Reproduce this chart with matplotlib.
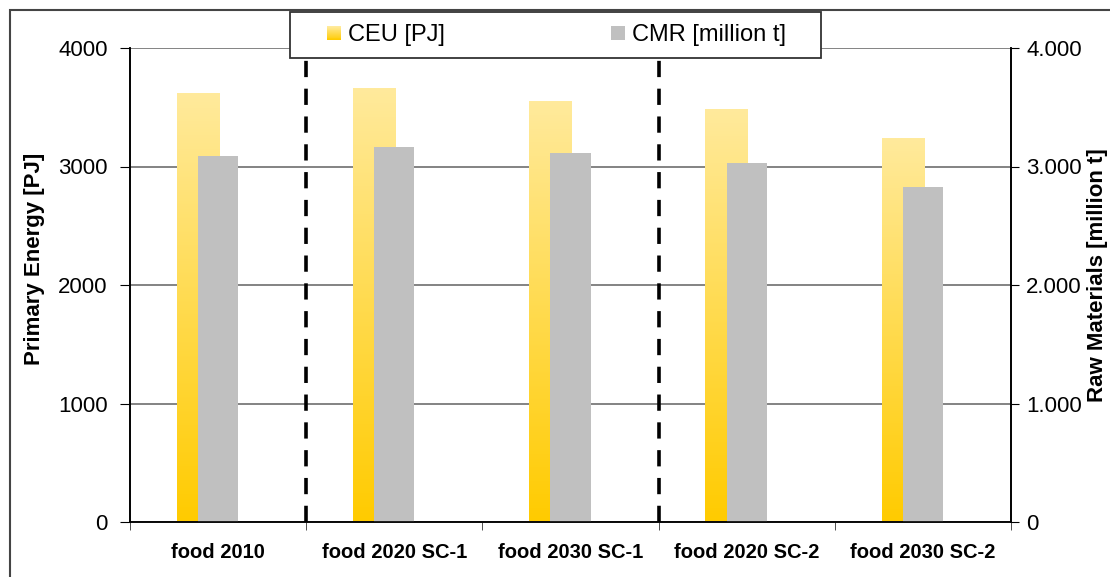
import numpy as np
import matplotlib
matplotlib.use("Agg")
import matplotlib.pyplot as plt
from matplotlib.colors import LinearSegmentedColormap
from matplotlib.patches import Rectangle
from matplotlib.legend_handler import HandlerBase
from matplotlib.ticker import FixedLocator

categories = ["food 2010", "food 2020 SC-1", "food 2030 SC-1", "food 2020 SC-2", "food 2030 SC-2"]
ceu_pj = [3615, 3655, 3545, 3485, 3235]
cmr_mt = [3085, 3165, 3115, 3030, 2830]
left_ticks = [0, 1000, 2000, 3000, 4000]
right_tick_labels = ["0", "1.000", "2.000", "3.000", "4.000"]
separators = [0.5, 2.5]

plt.rcParams['font.family'] = ['Liberation Sans', 'DejaVu Sans']

yellow_cmap = LinearSegmentedColormap.from_list("ceu", ["#FFCB00", "#FFEA9C"])
gray = "#C0C0C0"

fig = plt.figure(figsize=(11.10, 5.77), dpi=100)
ax = fig.add_axes([130/1110, 1-522/577, (1011-130)/1110, (522-48)/577])
ax2 = ax.twinx()

x = np.arange(len(categories))
bw = 0.24
off = -0.114

# gradient yellow bars
bars = ax.bar(x + off, ceu_pj, width=bw, color='none', edgecolor='none', zorder=2)
grad = np.linspace(0, 1, 256).reshape(-1, 1)
for b in bars:
    x0, w, h = b.get_x(), b.get_width(), b.get_height()
    ax.imshow(grad, extent=[x0, x0 + w, 0, h], origin='lower', aspect='auto',
              cmap=yellow_cmap, zorder=2, interpolation='bilinear')

ax2.bar(x, cmr_mt, width=bw * 0.95, color=gray, edgecolor='none', zorder=2)

ax.set_xlim(-0.5, len(categories) - 0.5)
ax.set_ylim(0, 4000)
ax2.set_ylim(0, 4000)
ax.set_yticks(left_ticks)
ax.set_yticklabels([str(t) for t in left_ticks])
ax2.set_yticks(left_ticks)
ax2.set_yticklabels(right_tick_labels)

ax.set_axisbelow(True)
ax.yaxis.grid(True, color="#7a7a7a", linewidth=1.3)
ax.xaxis.grid(False)

for s in separators:
    ax.axvline(s, color='black', linewidth=2.6, linestyle=(0, (4.5, 3.2)), zorder=3)

ax.set_xticks(x)
ax.set_xticklabels(categories, fontsize=14.5, fontweight='bold')
ax.xaxis.set_minor_locator(FixedLocator(np.arange(-0.5, len(categories), 1.0)))
ax.tick_params(axis='x', which='major', length=0, pad=15)
ax.tick_params(axis='x', which='minor', length=6, direction='out', color='#333')
ax.tick_params(axis='y', length=7, direction='out', labelsize=16, pad=9)
ax2.tick_params(axis='y', length=6, direction='out', labelsize=16, pad=5)

for a in (ax, ax2):
    a.spines['top'].set_visible(False)
ax.spines['left'].set_color('black')
ax.spines['bottom'].set_color('#333')
ax2.spines['right'].set_color('black')
for a in (ax, ax2):
    for sp in a.spines.values():
        sp.set_linewidth(1.2)

ax.set_ylabel("Primary Energy [PJ]", fontsize=16, fontweight='bold')
ax.yaxis.set_label_coords(-0.0965, 0.555)
ax2.set_ylabel("Raw Materials [million t]", fontsize=16, fontweight='bold', rotation=90)
ax2.yaxis.set_label_coords(1.0863, 0.52)


class GradHandler(HandlerBase):
    def create_artists(self, legend, orig_handle, xdescent, ydescent, width, height, fontsize, trans):
        n = 16
        arts = []
        for i in range(n):
            c = yellow_cmap(i / (n - 1))
            r = Rectangle((-xdescent, -ydescent + i * height / n), width, height / n * 1.05,
                          facecolor=c, edgecolor='none', transform=trans)
            arts.append(r)
        return arts


# legend box
fig.patches.append(Rectangle((290/1110, 1-58/577), 531/1110, 46.5/577, transform=fig.transFigure,
                             facecolor='white', edgecolor='#333', linewidth=1.3, zorder=4))

h1 = Rectangle((0, 0), 1, 1, facecolor="#FFD84D")
h2 = Rectangle((0, 0), 1, 1, facecolor=gray, edgecolor='none')
leg = fig.legend([h1, h2], ["CEU [PJ]", "CMR [million t]"], ncol=2,
                 handler_map={h1: GradHandler()},
                 bbox_to_anchor=(327/1110, 1-35.5/577),
                 loc='center left',
                 fontsize=17, frameon=False,
                 handlelength=0.6, handleheight=0.55,
                 handletextpad=0.28, columnspacing=7.05, borderaxespad=0, borderpad=0)
leg.set_zorder(5)

fig.patches.append(Rectangle((9.5/1110, -0.2), 1.3, 1.2 - 10/577, transform=fig.transFigure,
                             fill=False, edgecolor='#444', linewidth=1.5))

fig.savefig("out.png", dpi=100)
